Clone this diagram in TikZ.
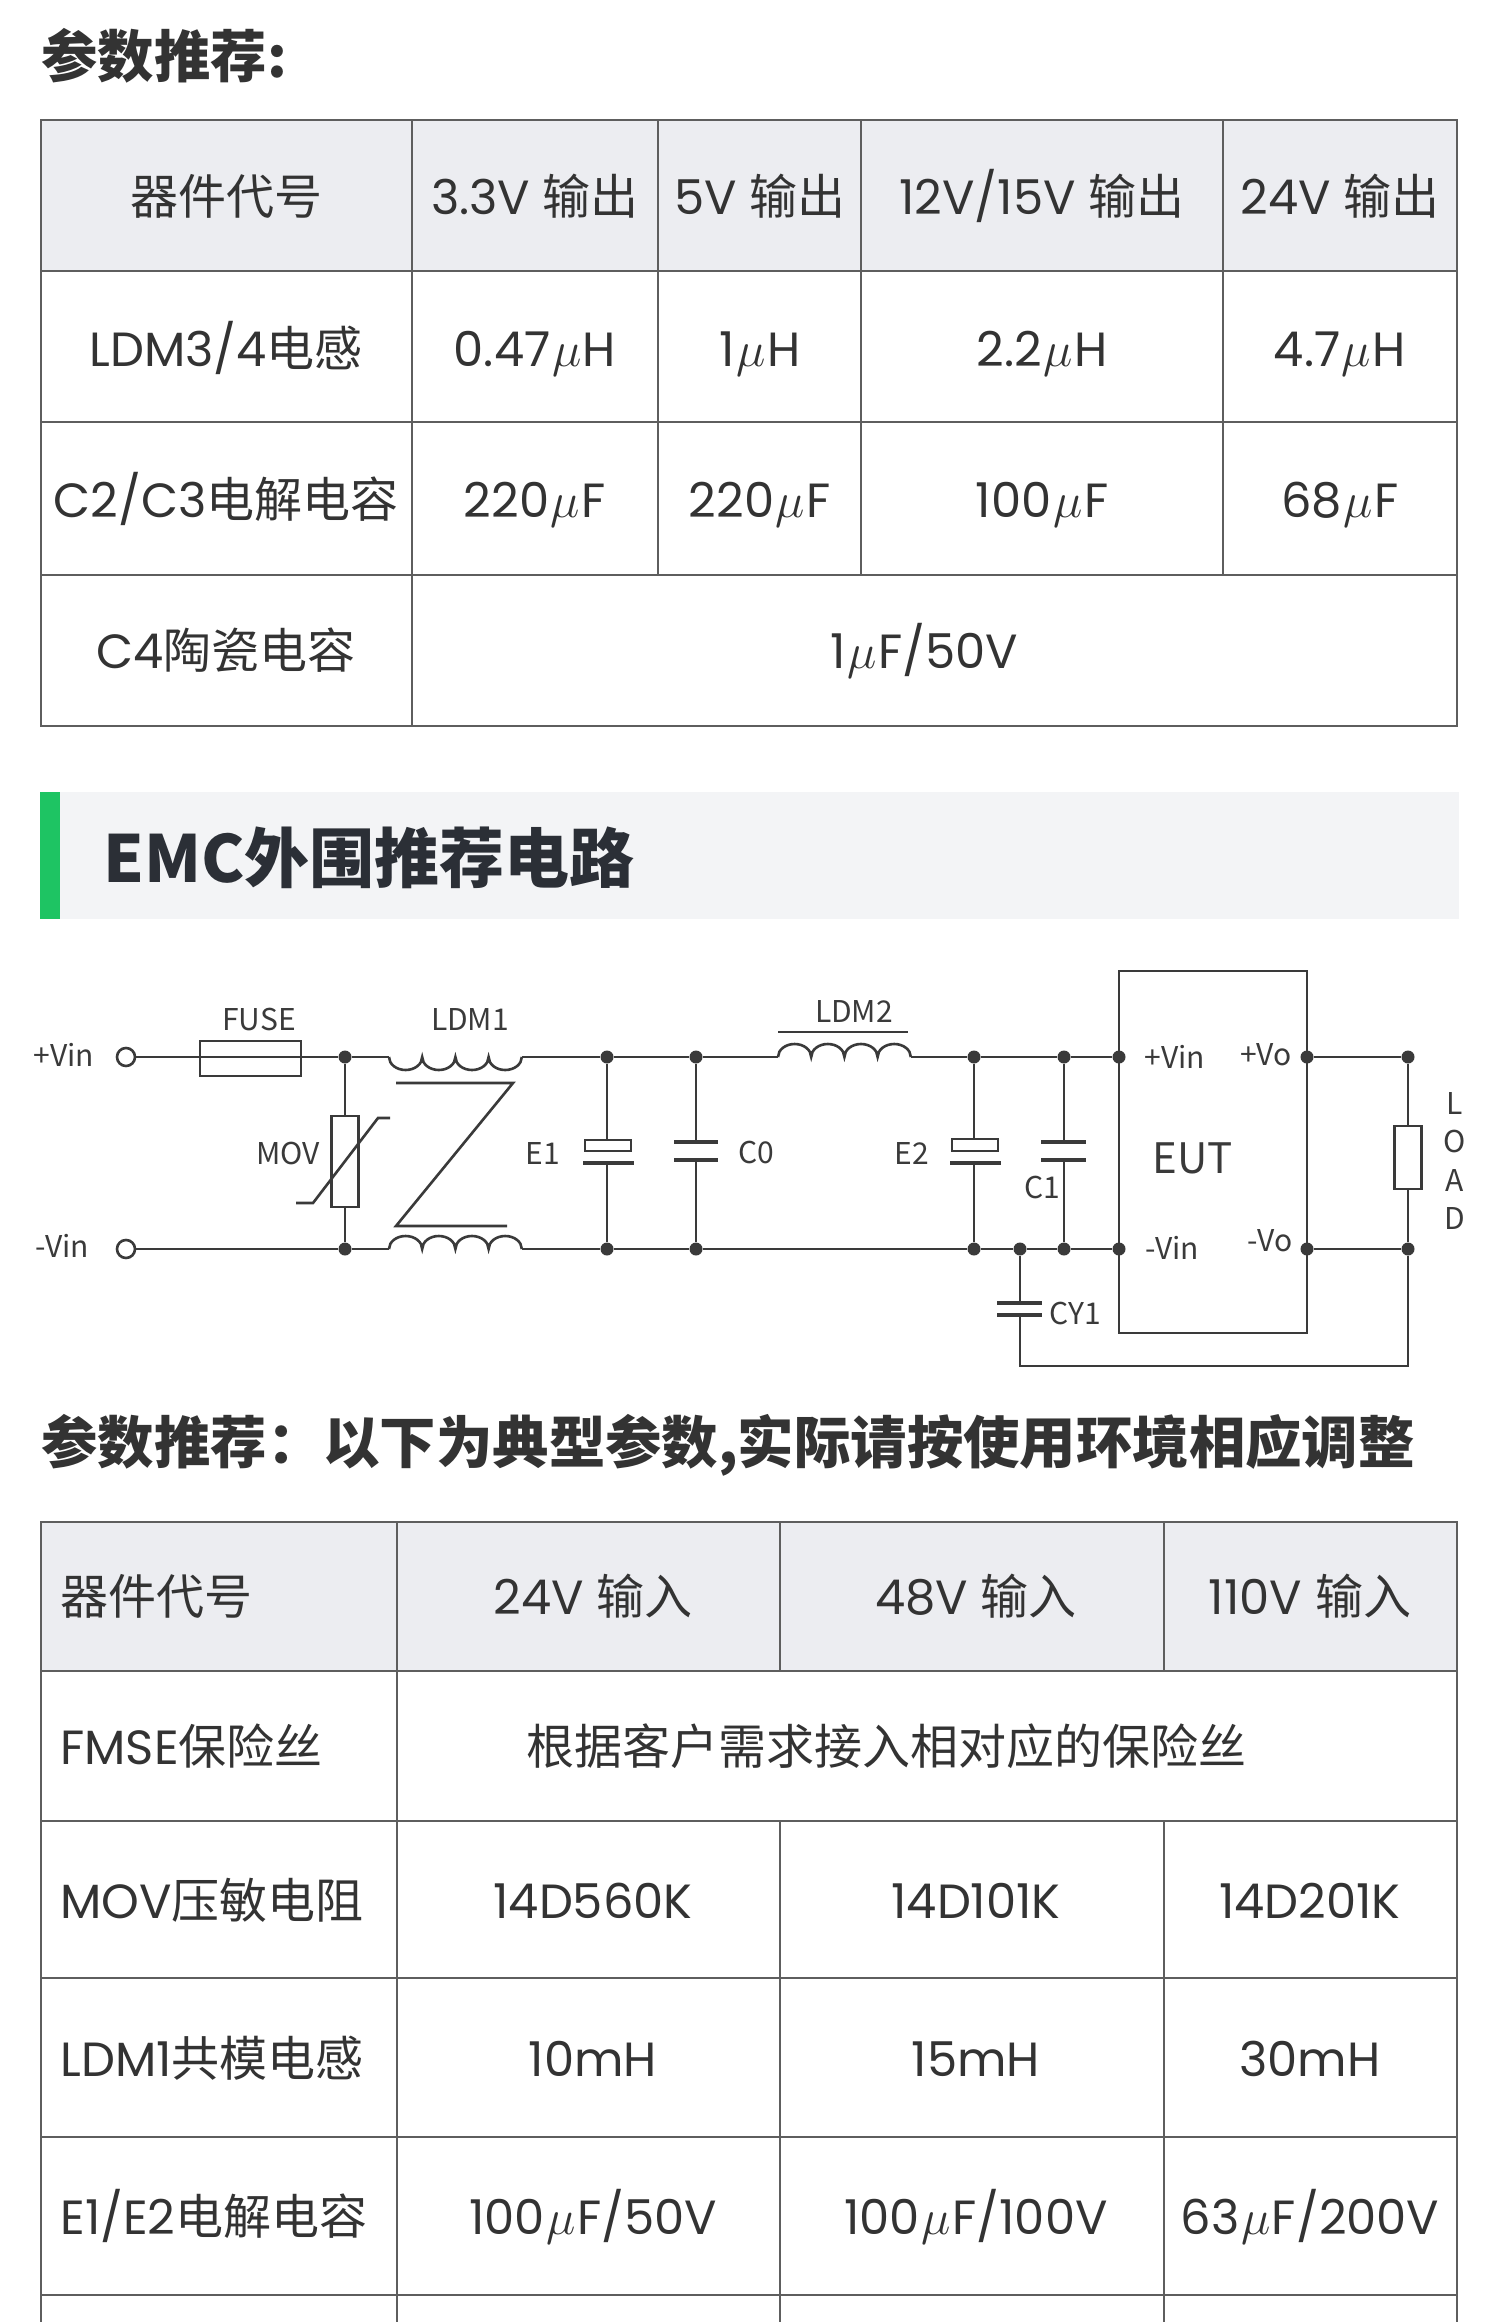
\documentclass[tikz,border=0pt]{standalone}
\usepackage{fontspec}
\setmainfont{Poppins}
\newfontfamily\cjkf{Noto Sans CJK SC}
\newcommand\uu{\hspace{0.8pt}$\mu$\hspace{0.8pt}}
\definecolor{txt}{HTML}{333333}
\definecolor{gridc}{HTML}{5E5E5E}
\definecolor{hdr}{HTML}{ECEDF1}
\definecolor{band}{HTML}{F3F4F6}
\definecolor{markc}{HTML}{1EC463}
\definecolor{wirec}{HTML}{3A3A3A}
\definecolor{emct}{HTML}{2B2F36}
\tikzset{
  tcell/.style={anchor=base, text=txt, inner sep=0pt, font=\fontsize{24}{28}\selectfont},
  tcellL/.style={tcell, anchor=base west},
  ttl/.style={anchor=base west, text=txt, inner sep=0pt, font=\cjkf\bfseries\fontsize{28.2}{32}\selectfont},
  gline/.style={draw=gridc, line width=1.2pt},
  wline/.style={draw=wirec, line width=1.3pt},
  pline/.style={draw=wirec, line width=1.8pt},
  clbl/.style={text=wirec, inner sep=0pt, font=\cjkf\fontsize{15}{18}\selectfont},
  jdot/.style={circle, fill=wirec, inner sep=0pt, minimum size=6.5pt},
  tpin/.style={circle, draw=wirec, line width=1.3pt, fill=white, inner sep=0pt, minimum size=9pt},
}
\begin{document}
\begin{tikzpicture}[x=0.5pt,y=-0.5pt]
\useasboundingbox (0,0) rectangle (1500,2322);
\fill[white] (0,0) rectangle (1500,2322);

% ---------- title 1 ----------
\node[ttl] (title1) at (41,78) {参数推荐:};

% ---------- table 1 ----------
\fill[hdr] (41,120) rectangle (1457,271);
\draw[gline] (41,120) rectangle (1457,726);
\draw[gline] (41,271) -- (1457,271) (41,422) -- (1457,422) (41,575) -- (1457,575);
\draw[gline] (412,120) -- (412,726);
\foreach \x in {658,861,1223} \draw[gline] (\x,120) -- (\x,575);

\node[tcell] (a11) at (226,215) {\cjkf 器件代号};
\node[tcell] (a12) at (535,215) {3.3V {\cjkf 输出}};
\node[tcell] (a13) at (760,215) {5V {\cjkf 输出}};
\node[tcell] (a14) at (1042,215) {12V/15V {\cjkf 输出}};
\node[tcell] (a15) at (1340,215) {24V {\cjkf 输出}};

\node[tcell] (a21) at (226,366) {LDM3/4{\cjkf 电感}};
\node[tcell] (a22) at (535,366) {0.47\uu H};
\node[tcell] (a24) at (760,366) {1\uu H};
\node[tcell] (a25) at (1042,366) {2.2\uu H};
\node[tcell] (a26) at (1340,366) {4.7\uu H};

\node[tcell] (a31) at (226,517) {C2/C3{\cjkf 电解电容}};
\node[tcell] (a32) at (535,517) {220\uu F};
\node[tcell] (a33) at (760,517) {220\uu F};
\node[tcell] (a34) at (1042,517) {100\uu F};
\node[tcell] (a35) at (1340,517) {68\uu F};

\node[tcell] (a41) at (226,668) {C4{\cjkf 陶瓷电容}};
\node[tcell] (a42) at (924,668) {1\uu F/50V};

% ---------- EMC band ----------
\fill[band] (40,792) rectangle (1459,919);
\fill[markc] (40,792) rectangle (60,919);
\node[anchor=base west, inner sep=0pt, text=emct, font=\cjkf\bfseries\fontsize{32.5}{38}\selectfont] (emc) at (103,882) {EMC外围推荐电路};

% ---------- circuit ----------
\node[tpin] (pinP) at (126,1057) {};
\node[tpin] (pinN) at (126,1249) {};
\node[clbl] (lvp) at (64,1055) {+Vin};
\node[clbl] (lvn) at (62,1246) {-Vin};

\foreach \n/\x in {j1t/345,e1t/607,c0t/696,e2t/974,c1t/1064,eit/1119,eot/1307,rlt/1408}
  \node[jdot] (\n) at (\x,1057) {};
\foreach \n/\x in {j1b/345,e1b/607,c0b/696,e2b/974,cyb/1020,c1b/1064,eib/1119,eob/1307,rlb/1408}
  \node[jdot] (\n) at (\x,1249) {};

\coordinate (L1a) at (389,1057);
\coordinate (L1b) at (521.8,1057);
\coordinate (L1c) at (389,1249);
\coordinate (L1d) at (521.8,1249);
\coordinate (L2a) at (778,1057);
\coordinate (L2b) at (910.8,1057);

% top rail
\draw[wline] (pinP.east) -- (j1t) -- (L1a);
\draw[wline] (L1a)
  arc[start angle=180,end angle=0,x radius=16.6,y radius=13]
  arc[start angle=180,end angle=0,x radius=16.6,y radius=13]
  arc[start angle=180,end angle=0,x radius=16.6,y radius=13]
  arc[start angle=180,end angle=0,x radius=16.6,y radius=13];
\draw[wline] (L1b) -- (e1t) -- (c0t) -- (L2a);
\draw[wline] (L2a)
  arc[start angle=180,end angle=360,x radius=16.6,y radius=13]
  arc[start angle=180,end angle=360,x radius=16.6,y radius=13]
  arc[start angle=180,end angle=360,x radius=16.6,y radius=13]
  arc[start angle=180,end angle=360,x radius=16.6,y radius=13];
\draw[wline] (L2b) -- (e2t) -- (c1t) -- (eit);
\draw[wline] (778,1032) -- (908,1032);

% bottom rail
\draw[wline] (pinN.east) -- (j1b) -- (L1c);
\draw[wline] (L1c)
  arc[start angle=180,end angle=360,x radius=16.6,y radius=13]
  arc[start angle=180,end angle=360,x radius=16.6,y radius=13]
  arc[start angle=180,end angle=360,x radius=16.6,y radius=13]
  arc[start angle=180,end angle=360,x radius=16.6,y radius=13];
\draw[wline] (L1d) -- (e1b) -- (c0b) -- (e2b) -- (cyb) -- (c1b) -- (eib);

% fuse
\node[draw=wirec, line width=1.3pt, inner sep=0pt, minimum width=50.5pt, minimum height=17.5pt] (fuse) at (250.5,1058.5) {};
\node[clbl] (lfuse) at (259,1019) {FUSE};
\node[clbl] (lldm1) at (470,1019) {LDM1};

% MOV
\draw[wline] (j1t) -- (j1b);
\node[draw=wirec, line width=1.3pt, fill=white, inner sep=0pt, minimum width=13.5pt, minimum height=45.5pt] (mov) at (345,1161.5) {};
\draw[wline] (296,1203) -- (313,1203) -- (378,1118) -- (390,1118);
\node[clbl] (lmov) at (288,1153) {MOV};

% Z mark of common-mode choke
\draw[wline] (396,1083) -- (513,1083) -- (396,1226) -- (507,1226);

% E1
\draw[wline] (e1t) -- (607,1140);
\draw[wline] (585,1140) rectangle (631,1151);
\draw[pline] (583,1163) -- (634,1163);
\draw[wline] (607,1163) -- (e1b);
\node[clbl] (le1) at (543,1153) {E1};

% C0
\draw[wline] (c0t) -- (696,1142);
\draw[pline] (674,1142) -- (718,1142);
\draw[pline] (674,1160) -- (718,1160);
\draw[wline] (696,1160) -- (c0b);
\node[clbl] (lc0) at (756,1152) {C0};

\node[clbl] (lldm2) at (854,1011) {LDM2};

% E2
\draw[wline] (e2t) -- (974,1139);
\draw[wline] (952,1139) rectangle (998,1151);
\draw[pline] (950,1163) -- (1001,1163);
\draw[wline] (974,1163) -- (e2b);
\node[clbl] (le2) at (912,1153) {E2};

% C1
\draw[wline] (c1t) -- (1064,1142);
\draw[pline] (1041,1142) -- (1086,1142);
\draw[pline] (1041,1160) -- (1086,1160);
\draw[wline] (1064,1160) -- (c1b);
\node[clbl] (lc1) at (1042,1187) {C1};

% CY1 and return
\draw[wline] (cyb) -- (1020,1303);
\draw[pline] (997,1303) -- (1042,1303);
\draw[pline] (997,1315) -- (1042,1315);
\draw[wline] (1020,1315) -- (1020,1366) -- (1408,1366) -- (rlb);
\node[clbl] (lcy1) at (1075,1313) {CY1};

% EUT
\node[draw=wirec, line width=1.3pt, inner sep=0pt, minimum width=94pt, minimum height=181pt] (eut) at (1213,1152) {};
\node[clbl, font=\cjkf\fontsize{21}{24}\selectfont] (leut) at (1193,1158) {EUT};
\node[clbl] (lpvin) at (1175,1057) {+Vin};
\node[clbl] (lpvo) at (1266,1055) {+Vo};
\node[clbl] (lnvin) at (1172,1248) {-Vin};
\node[clbl] (lnvo) at (1270,1241) {-Vo};

% output and load
\draw[wline] (eot) -- (rlt);
\draw[wline] (eob) -- (rlb);
\draw[wline] (rlt) -- (1408,1126);
\node[draw=wirec, line width=1.3pt, fill=white, inner sep=0pt, minimum width=13.5pt, minimum height=31.5pt] (rload) at (1408,1157.5) {};
\draw[wline] (rload.south) -- (rlb);
\node[clbl] (lL) at (1455,1103) {L};
\node[clbl] (lO) at (1455,1141) {O};
\node[clbl] (lA) at (1455,1180) {A};
\node[clbl] (lD) at (1455,1218) {D};

% ---------- title 2 ----------
\node[ttl] (title2) at (41,1463) {参数推荐：以下为典型参数,实际请按使用环境相应调整};

% ---------- table 2 ----------
\fill[hdr] (41,1522) rectangle (1457,1671);
\draw[gline] (41,2330) -- (41,1522) -- (1457,1522) -- (1457,2330);
\foreach \y in {1671,1821,1978,2137,2295} \draw[gline] (41,\y) -- (1457,\y);
\draw[gline] (397,1522) -- (397,2330);
\foreach \x in {780,1164} {
  \draw[gline] (\x,1522) -- (\x,1671);
  \draw[gline] (\x,1821) -- (\x,2330);
}

\node[tcellL] (b11) at (60,1614) {\cjkf 器件代号};
\node[tcell] (b12) at (593,1614) {24V {\cjkf 输入}};
\node[tcell] (b13) at (976,1614) {48V {\cjkf 输入}};
\node[tcell] (b14) at (1310,1614) {110V {\cjkf 输入}};

\node[tcellL] (b21) at (60,1764) {FMSE{\cjkf 保险丝}};
\node[tcell] (b22) at (886,1764) {\cjkf 根据客户需求接入相对应的保险丝};

\node[tcellL] (b31) at (60,1918) {MOV{\cjkf 压敏电阻}};
\node[tcell] (b32) at (593,1918) {14D560K};
\node[tcell] (b33) at (976,1918) {14D101K};
\node[tcell] (b34) at (1310,1918) {14D201K};

\node[tcellL] (b41) at (60,2076) {LDM1{\cjkf 共模电感}};
\node[tcell] (b42) at (593,2076) {10mH};
\node[tcell] (b43) at (976,2076) {15mH};
\node[tcell] (b44) at (1310,2076) {30mH};

\node[tcellL] (b51) at (60,2234) {E1/E2{\cjkf 电解电容}};
\node[tcell] (b52) at (593,2234) {100\uu F/50V};
\node[tcell] (b53) at (976,2234) {100\uu F/100V};
\node[tcell] (b54) at (1310,2234) {63\uu F/200V};
\end{tikzpicture}
\end{document}
